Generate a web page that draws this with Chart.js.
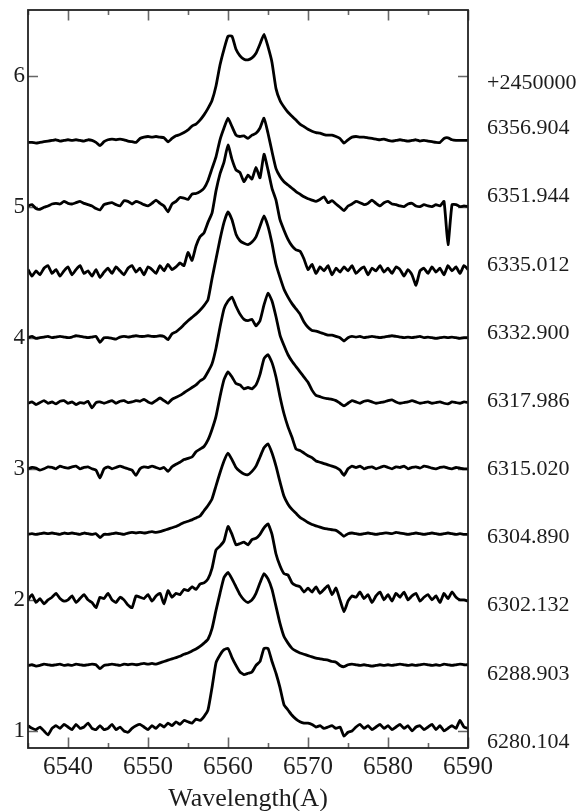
<!DOCTYPE html>
<html><head><meta charset="utf-8">
<script src="https://cdn.jsdelivr.net/npm/chart.js@4.4.1/dist/chart.umd.min.js"></script>
<style>html,body{margin:0;padding:0;background:#fff;}#wrap{width:581px;height:811px;position:relative;}</style>
</head><body><div id="wrap"><canvas id="c"></canvas></div>
<script>
// Wavelength grid (Angstrom)
const wavelength = [
6535,6535.5,6536,6536.5,6537,6537.5,6538,6538.5,6539,6539.5,
6540,6540.5,6541,6541.5,6542,6542.5,6543,6543.5,6544,6544.5,
6545,6545.5,6546,6546.5,6547,6547.5,6548,6548.5,6549,6549.5,
6550,6550.5,6551,6551.5,6552,6552.5,6553,6553.5,6554,6554.5,
6555,6555.5,6556,6556.5,6557,6557.5,6558,6558.5,6559,6559.5,
6560,6560.5,6561,6561.5,6562,6562.5,6563,6563.5,6564,6564.5,
6565,6565.5,6566,6566.5,6567,6567.5,6568,6568.5,6569,6569.5,
6570,6570.5,6571,6571.5,6572,6572.5,6573,6573.5,6574,6574.5,
6575,6575.5,6576,6576.5,6577,6577.5,6578,6578.5,6579,6579.5,
6580,6580.5,6581,6581.5,6582,6582.5,6583,6583.5,6584,6584.5,
6585,6585.5,6586,6586.5,6587,6587.5,6588,6588.5,6589,6589.5,
6590];

// Epochs (HJD - 2450000), top to bottom
const epochs = ['6356.904','6351.944','6335.012','6332.900','6317.986','6315.020','6304.890','6302.132','6288.903','6280.104'];
const epochZero = '+2450000';
// Vertical offsets of each spectrum
const offsets = [5.5, 5.0, 4.5, 4.0, 3.5, 3.0, 2.5, 2.0, 1.5, 1.0];

// Flux above continuum for each epoch
const flux6356 = [
-0.01,-0.01,-0.015,-0.01,-0.005,0,0.005,0.01,0,0.005,
0.01,0.005,0.01,0.005,0,0.01,0.005,-0.01,-0.035,-0.005,
0.01,0.015,0.01,0.015,0.01,0,-0.005,-0.01,0.02,0.03,
0.035,0.03,0.035,0.03,0.025,-0.005,0.02,0.04,0.05,0.065,
0.085,0.115,0.13,0.16,0.2,0.25,0.31,0.42,0.58,0.7,
0.8,0.8,0.7,0.65,0.625,0.62,0.635,0.67,0.74,0.815,
0.72,0.6,0.4,0.31,0.26,0.22,0.19,0.16,0.13,0.11,
0.09,0.075,0.065,0.06,0.05,0.045,0.045,0.035,0.02,-0.015,
0.01,0.03,0.035,0.03,0.03,0.025,0.02,0.015,0.01,0.015,
0.005,0,0.005,0.01,0.005,0,0.005,0.01,0,0.005,
0,-0.005,-0.01,-0.01,0.02,0.025,0.01,0.005,0.005,0.005,
0.005];
const flux6351 = [
0.005,0.015,-0.015,-0.02,-0.005,0.005,0.02,0.025,0.02,0.04,
0.025,0.02,0.03,0.04,0.025,0.015,0.005,-0.015,-0.025,0.015,
0.025,0.03,0.015,0.005,0.045,0.04,0.02,0.04,0.03,0.015,
0.005,0.025,0.05,0.025,0.005,-0.04,0.02,0.04,0.07,0.065,
0.055,0.095,0.1,0.115,0.14,0.2,0.29,0.38,0.51,0.6,
0.675,0.61,0.545,0.535,0.54,0.52,0.545,0.56,0.6,0.675,
0.56,0.42,0.29,0.23,0.19,0.165,0.14,0.115,0.095,0.075,
0.06,0.05,0.04,0.055,0.075,0.03,0.045,0.02,-0.005,-0.03,
0.005,0.02,0.04,0.03,0.015,0.025,0.05,0.025,0.005,0.03,
0.04,0.02,0.015,0.005,0,0.02,0.025,0.005,0,0.015,
0.005,0,0.015,0.005,0.04,-0.29,0.015,0.015,0,0.005,
0];
const flux6335 = [
0.02,-0.03,0.01,-0.02,0.03,0.05,-0.01,0.02,-0.03,0.01,
0.04,-0.02,0.02,0.05,-0.01,0.01,-0.03,0.02,-0.04,0,
0.03,-0.01,0.04,0.01,-0.02,0.03,0.05,0,0.03,-0.02,
0.04,0.02,-0.01,0.05,0.01,0.06,0.02,0.04,0.07,0.05,
0.15,0.09,0.2,0.27,0.3,0.38,0.45,0.62,0.75,0.84,
0.97,0.86,0.78,0.76,0.69,0.74,0.71,0.8,0.72,0.9,
0.78,0.64,0.55,0.4,0.32,0.25,0.2,0.17,0.16,0.1,
0.02,0.06,-0.01,0.04,0.01,0.05,-0.02,0.03,0,0.04,
0.01,0.05,-0.01,0.02,0.04,-0.02,0.03,0.01,0.05,0,
0.03,-0.01,0.04,0.02,-0.03,0.02,-0.02,-0.1,0.01,0.03,
-0.01,0.04,0,0.03,-0.02,0.05,0.01,0.04,-0.01,0.05,
0.02];
const flux6332 = [
0,0.01,-0.005,0,0.005,0.01,0,0.005,0.01,0.005,
0,0.005,0.015,0.01,0.005,0,0.005,0.01,-0.035,0,
0,-0.005,-0.01,0.005,0.01,0.005,0.01,0.015,0.01,0.01,
0.015,0.01,0.01,0.015,0.01,-0.015,0.03,0.045,0.07,0.1,
0.13,0.155,0.18,0.21,0.245,0.29,0.45,0.6,0.75,0.88,
0.96,0.9,0.79,0.74,0.72,0.71,0.73,0.77,0.85,0.93,
0.85,0.72,0.56,0.46,0.37,0.31,0.26,0.22,0.18,0.12,
0.08,0.055,0.05,0.04,0.03,0.02,0.02,0.01,0,-0.025,
0,0.01,0.005,0.01,0,0.005,0.01,0.005,0,0.005,
0.01,0.015,0.01,0.005,0,0.005,0,0.005,0.01,0,
0.005,0,-0.005,0,0.005,0,0.005,0,-0.005,0,
0];
const flux6317 = [
0,0.01,-0.01,0.005,0.02,0,0.01,-0.005,0.015,0.02,
0,0.01,-0.01,0.005,0,0.015,-0.035,0.005,0.01,0,
0.01,0.02,0,0.015,0.02,0.005,0.01,0.02,0.015,0.03,
0.01,0,0.02,0.04,0.02,0,0.03,0.045,0.06,0.08,
0.1,0.12,0.14,0.17,0.19,0.24,0.3,0.42,0.58,0.72,
0.78,0.81,0.74,0.68,0.64,0.63,0.64,0.59,0.63,0.75,
0.84,0.78,0.66,0.52,0.44,0.37,0.32,0.28,0.24,0.2,
0.16,0.1,0.06,0.05,0.04,0.035,0.03,0.02,0,-0.02,
0,0.02,0.01,0,0.015,0.02,0.01,0,0.005,0.01,
0.02,0.025,0.01,0,0.005,0.01,0.02,0.01,0,0.005,
0.01,0,0.005,0.01,0,-0.005,0.01,0.005,0,0.01,
0.005];
const flux6315 = [
0,0.01,0.005,-0.01,0,0.015,0.01,0,0.02,0.01,
0.005,0.015,0.02,0,0.01,0.015,0,-0.01,-0.07,0,
0.015,0,0.01,0.02,0.01,0,-0.01,-0.05,0,0.015,
0.01,0.02,0.01,0,0.01,-0.02,0.015,0.035,0.05,0.07,
0.08,0.09,0.13,0.15,0.17,0.22,0.3,0.4,0.55,0.68,
0.74,0.7,0.65,0.64,0.61,0.62,0.61,0.64,0.72,0.84,
0.87,0.81,0.7,0.55,0.42,0.32,0.24,0.15,0.14,0.12,
0.1,0.085,0.06,0.05,0.04,0.03,0.02,0.01,-0.01,-0.05,
0,0.02,0.01,0.02,0,0.01,0.015,0,0.01,0.02,
0.01,0,0.015,0.01,0.02,0,0.01,0.015,0.005,0.02,
0.015,0.005,0,0.01,0.015,0.005,0,0.01,0.005,0,
0];
const flux6304 = [
0,0.005,0,0.005,0.01,0.005,0.01,0.005,0,0.01,
0.005,0.01,0.005,0,0.01,0.005,0,0.005,-0.025,0,
0,0.005,0.01,0.005,0,0.01,0.015,0.01,0.015,0.01,
0.015,0.02,0.015,0.02,0.03,0.04,0.05,0.06,0.075,0.09,
0.1,0.11,0.125,0.14,0.18,0.22,0.27,0.37,0.47,0.56,
0.62,0.57,0.51,0.48,0.46,0.455,0.48,0.52,0.59,0.66,
0.69,0.62,0.52,0.4,0.29,0.23,0.19,0.16,0.13,0.11,
0.09,0.075,0.065,0.055,0.045,0.04,0.035,0.03,0.01,-0.015,
0.005,0.01,0.005,0,0.005,0.01,0.005,0,0.005,0.01,
0.01,0.005,0.015,0.01,0.005,0,0.005,0.01,0.005,0,
0.005,0.01,0.005,0,0.005,0.01,0.005,0,0.005,0,
0];
const flux6302 = [
0,0.04,-0.02,0.01,-0.03,0,0.02,0.05,0.01,-0.01,
0,0.03,-0.02,0.01,0.04,0,-0.02,-0.06,0.02,0.01,
0.05,0,-0.02,0.02,0,-0.04,-0.06,0.03,0.02,0.01,
0.04,-0.01,0.03,0.05,-0.03,0.07,0.02,0.05,0.04,0.08,
0.07,0.1,0.08,0.12,0.13,0.16,0.24,0.38,0.41,0.45,
0.56,0.5,0.42,0.43,0.44,0.42,0.46,0.47,0.5,0.55,
0.58,0.5,0.35,0.26,0.2,0.19,0.13,0.11,0.1,0.06,
0.09,0.06,0.1,0.05,0.08,0.11,0.04,0.09,0,-0.09,
-0.01,0.03,0.02,0.06,0.01,0.04,-0.02,0.03,0.06,0,
0.04,-0.01,0.05,0.02,0.06,0,0.03,0.05,-0.01,0.02,
0.04,0,0.03,-0.02,0.05,0.01,0.06,0.02,0,0,
-0.01];
const flux6288 = [
0,0.005,-0.005,0,0.01,0.005,0,0.005,0.01,0,
0.005,0,0.01,0.005,0,0.005,0.01,0.005,-0.025,0,
0.005,0.01,0.005,0,0.01,0.005,0.01,0.005,0.01,0.015,
0.01,0.015,0.01,0.02,0.03,0.04,0.05,0.06,0.07,0.085,
0.095,0.11,0.125,0.145,0.17,0.2,0.28,0.42,0.55,0.67,
0.71,0.66,0.6,0.54,0.5,0.48,0.5,0.55,0.63,0.7,
0.66,0.58,0.45,0.32,0.22,0.17,0.13,0.11,0.095,0.085,
0.075,0.065,0.055,0.05,0.045,0.04,0.03,0.025,0,-0.01,
0.005,0.01,0.005,0,0.005,0,-0.005,0,0.005,0,
0.005,0,0.005,0.01,0.005,0,0.005,0,0.005,0.01,
0.005,0,0.005,0,0.01,0.005,0,0.005,0.01,0.005,
0.005];
const flux6280 = [
0.04,0.02,0.01,0.03,0,-0.03,0.02,0.04,0.02,0.05,
0.03,0.01,0.05,0.02,0.03,0.06,0.02,0.01,0.04,0.01,
0.02,0.05,0.01,0.03,0,-0.01,0.02,0.04,0.05,0.03,
0.01,0.04,0.02,0.05,0.03,0.06,0.04,0.07,0.05,0.08,
0.07,0.06,0.09,0.08,0.11,0.16,0.33,0.52,0.58,0.62,
0.63,0.56,0.5,0.45,0.43,0.44,0.45,0.5,0.53,0.63,
0.63,0.53,0.44,0.33,0.2,0.16,0.12,0.09,0.07,0.06,
0.06,0.05,0.03,0.04,0.02,0.03,0.04,0.02,0.03,-0.04,
-0.01,0,0.03,0.05,0.02,0.04,0.01,0.03,0.05,0.02,
0.04,0.01,0.03,0.05,0.02,0.04,0,0.03,0.04,0.01,
0.03,0.05,0.01,0.04,0,0.02,0.04,0.02,0.08,0.03,
0.02];
const fluxes = [flux6356, flux6351, flux6335, flux6332, flux6317, flux6315, flux6304, flux6302, flux6288, flux6280];

// Axis tick values
const xTickValues = [6535,6540,6545,6550,6555,6560,6565,6570,6575,6580,6585,6590];
const yTickValues = [1,2,3,4,5,6];

// Layout of the epoch labels on the right-hand axis (axis units)
const epochLabelFirst = 0.916, epochLabelStep = 0.52, epochZeroPos = 5.942;
const rightLabels = epochs.slice().reverse().concat([epochZero]);
const rightLabelPos = rightLabels.map((t, i) => i < epochs.length ? epochLabelFirst + i * epochLabelStep : epochZeroPos);

const serif = "'Liberation Serif', 'Times New Roman', serif";
const textColor = '#1c1c1c';

const frame = {
  id: 'frame',
  beforeDatasetsDraw(chart) {
    const {ctx, chartArea: a, scales: {x, y}} = chart;
    ctx.save();
    ctx.strokeStyle = '#666';
    ctx.lineWidth = 1.6;
    x.ticks.forEach(t => {
      const px = Math.round(x.getPixelForValue(t.value)) + 0.5;
      const len = (t.value % 10 === 0) ? 10.5 : 5;
      ctx.beginPath();
      ctx.moveTo(px, a.bottom); ctx.lineTo(px, a.bottom - len);
      ctx.moveTo(px, a.top); ctx.lineTo(px, a.top + len);
      ctx.stroke();
    });
    y.ticks.forEach(t => {
      const py = Math.round(y.getPixelForValue(t.value)) + 0.5;
      ctx.beginPath();
      ctx.moveTo(a.left, py); ctx.lineTo(a.left + 10, py);
      ctx.moveTo(a.right, py); ctx.lineTo(a.right - 10, py);
      ctx.stroke();
    });
    ctx.restore();
  },
  afterDatasetsDraw(chart) {
    const {ctx, chartArea: a} = chart;
    ctx.save();
    ctx.strokeStyle = '#222';
    ctx.lineWidth = 1.8;
    ctx.strokeRect(a.left, a.top, a.right - a.left, a.bottom - a.top);
    ctx.restore();
  }
};

const noEdgePadding = s => { s.paddingTop = 0; s.paddingBottom = 0; };

const datasets = fluxes.map((f, k) => ({
  label: epochs[k],
  data: wavelength.map((w, i) => ({x: w, y: offsets[k] + f[i]})),
  borderColor: '#000',
  borderWidth: 2.8,
  pointRadius: 0,
  tension: 0.15,
  fill: false,
  yAxisID: 'y'
}));

new Chart(document.getElementById('c'), {
  type: 'line',
  data: {datasets},
  plugins: [frame],
  options: {
    responsive: true,
    maintainAspectRatio: false,
    animation: false,
    layout: {padding: {top: 10, left: 0, right: 0, bottom: 0}},
    plugins: {legend: {display: false}, tooltip: {enabled: false}},
    scales: {
      x: {
        type: 'linear', position: 'bottom', min: 6535, max: 6590,
        grid: {display: false, drawTicks: false}, border: {display: false},
        afterBuildTicks: s => { s.ticks = xTickValues.map(v => ({value: v})); },
        afterFit: s => { s.height = 63; s.paddingLeft = 0; s.paddingRight = 0; },
        ticks: {
          autoSkip: false, maxRotation: 0, padding: 4, color: textColor,
          font: {family: serif, size: 25},
          callback: v => (v % 10 === 0 && v > 6535) ? String(v) : ''
        },
        title: {display: true, text: 'Wavelength(A)', color: textColor, font: {family: serif, size: 26}, padding: {top: 0, bottom: -4}}
      },
      y: {
        type: 'linear', position: 'left', min: 0.87, max: 6.5,
        grid: {display: false, drawTicks: false}, border: {display: false},
        afterBuildTicks: s => { s.ticks = yTickValues.map(v => ({value: v})); },
        afterFit: s => { s.width = 28; noEdgePadding(s); },
        ticks: {padding: 3, color: textColor, font: {family: serif, size: 23}, callback: v => String(v)}
      },
      y2: {
        type: 'linear', position: 'right', min: 0.87, max: 6.5,
        grid: {display: false, drawTicks: false}, border: {display: false},
        afterBuildTicks: s => { s.ticks = rightLabelPos.map(v => ({value: v})); },
        afterFit: s => { s.width = 113; noEdgePadding(s); },
        ticks: {autoSkip: false, padding: 19, color: textColor, font: {family: serif, size: 22}, callback: (v, i) => rightLabels[i]}
      }
    }
  }
});
</script>
</body></html>
